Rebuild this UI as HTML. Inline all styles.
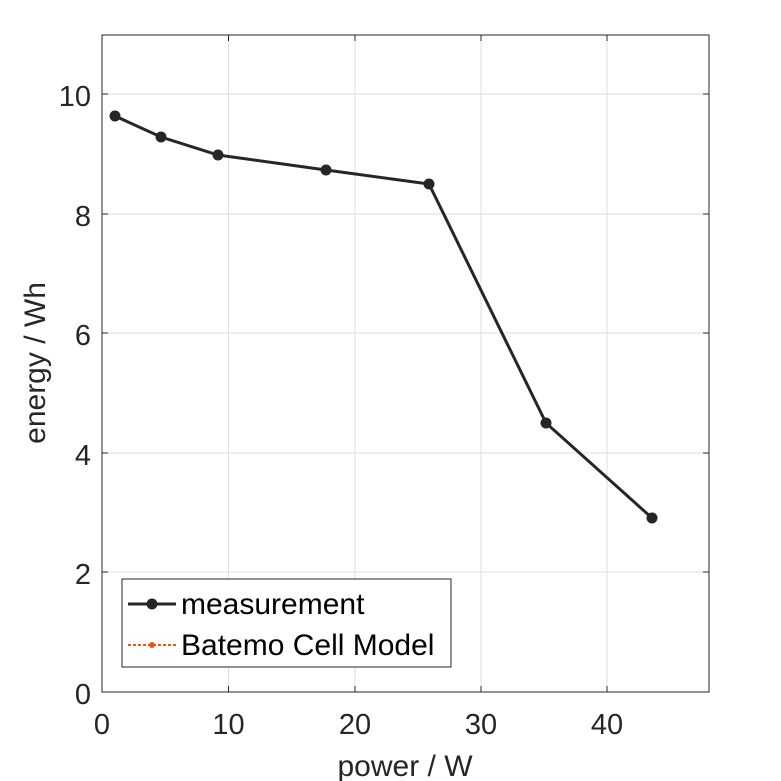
<!DOCTYPE html>
<html><head><style>body{margin:0;background:#fff}svg{display:block}</style></head><body>
<svg width="781" height="781" xmlns="http://www.w3.org/2000/svg" font-family="Liberation Sans, sans-serif">
<rect width="781" height="781" fill="#fff"/>
<g stroke="#dfdfdf" stroke-width="1">
<line x1="228.5" y1="35" x2="228.5" y2="692"/><line x1="355" y1="35" x2="355" y2="692"/><line x1="481" y1="35" x2="481" y2="692"/><line x1="607" y1="35" x2="607" y2="692"/>
<line x1="102" y1="94" x2="709" y2="94"/><line x1="102" y1="214" x2="709" y2="214"/><line x1="102" y1="333" x2="709" y2="333"/><line x1="102" y1="453" x2="709" y2="453"/><line x1="102" y1="572" x2="709" y2="572"/>
</g>
<rect x="102" y="35" width="607" height="657" fill="none" stroke="#262626" stroke-width="1"/>
<g stroke="#262626" stroke-width="1">
<line x1="228.5" y1="692" x2="228.5" y2="686"/><line x1="355" y1="692" x2="355" y2="686"/><line x1="481" y1="692" x2="481" y2="686"/><line x1="607" y1="692" x2="607" y2="686"/>
<line x1="228.5" y1="35" x2="228.5" y2="41"/><line x1="355" y1="35" x2="355" y2="41"/><line x1="481" y1="35" x2="481" y2="41"/><line x1="607" y1="35" x2="607" y2="41"/>
<line x1="102" y1="94" x2="108" y2="94"/><line x1="102" y1="214" x2="108" y2="214"/><line x1="102" y1="333" x2="108" y2="333"/><line x1="102" y1="453" x2="108" y2="453"/><line x1="102" y1="572" x2="108" y2="572"/>
<line x1="709" y1="94" x2="703" y2="94"/><line x1="709" y1="214" x2="703" y2="214"/><line x1="709" y1="333" x2="703" y2="333"/><line x1="709" y1="453" x2="703" y2="453"/><line x1="709" y1="572" x2="703" y2="572"/>
</g>
<g font-size="29" fill="#262626" text-anchor="middle">
<text x="102" y="734">0</text><text x="228.5" y="734">10</text><text x="355" y="734">20</text><text x="481" y="734">30</text><text x="607" y="734">40</text>
</g>
<g font-size="29" fill="#262626" text-anchor="end">
<text x="91" y="704">0</text><text x="91" y="584">2</text><text x="91" y="465">4</text><text x="91" y="345">6</text><text x="91" y="226">8</text><text x="91" y="106">10</text>
</g>
<text x="405" y="776" font-size="30" fill="#262626" text-anchor="middle">power / W</text>
<text transform="translate(45,363) rotate(-90)" font-size="30" fill="#262626" text-anchor="middle">energy / Wh</text>
<polyline points="115,116 161,137 218,155 326,170 429,184 546,423 652,518" fill="none" stroke="#262626" stroke-width="3"/>
<g fill="#262626">
<circle cx="115" cy="116" r="5.5"/><circle cx="161" cy="137" r="5.5"/><circle cx="218" cy="155" r="5.5"/><circle cx="326" cy="170" r="5.5"/><circle cx="429" cy="184" r="5.5"/><circle cx="546" cy="423" r="5.5"/><circle cx="652" cy="518" r="5.5"/>
</g>
<rect x="122" y="579" width="329" height="88" fill="#fff" stroke="#262626" stroke-width="1"/>
<line x1="128" y1="604" x2="176" y2="604" stroke="#262626" stroke-width="3"/>
<circle cx="152" cy="604" r="5.5" fill="#262626"/>
<text x="181" y="614" font-size="30" fill="#000">measurement</text>
<line x1="128" y1="645" x2="176" y2="645" stroke="#e8590c" stroke-width="2" stroke-dasharray="3,2"/>
<circle cx="152" cy="645" r="3" fill="#e8590c"/>
<text x="181" y="655" font-size="30" fill="#000">Batemo Cell Model</text>
</svg>
</body></html>
